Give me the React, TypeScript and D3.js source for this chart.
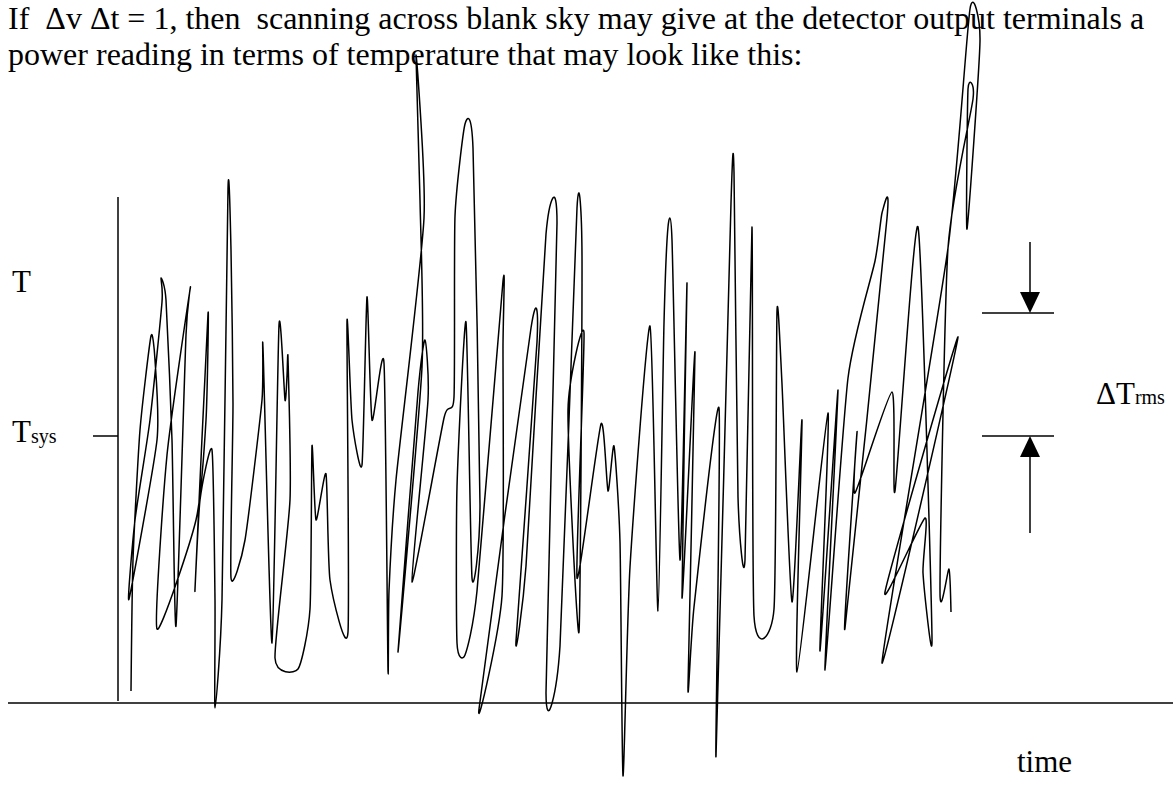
import React from 'react';
import * as d3 from 'd3';

// hand traced noise trace: time index and temperature (Tsys = 267 units)
const traceTime = [13, 15, 22, 33, 37, 39, 11, 17, 32, 44, 43, 48, 54, 58, 68, 72, 49, 39, 78, 88, 90, 77, 82, 94, 97, 97, 104, 110, 113, 115, 113, 127, 144, 145, 154, 161, 167, 169, 170, 172, 157, 180, 192, 194, 198, 208, 212, 230, 229, 234, 244, 249, 254, 266, 270, 271, 278, 306, 298, 302, 304, 280, 300, 307, 310, 294, 326, 336, 337, 347, 355, 362, 354, 348, 339, 339, 347, 359, 385, 385, 384, 361, 413, 419, 398, 408, 428, 439, 428, 442, 459, 464, 461, 450, 466, 459, 483, 490, 496, 502, 505, 512, 532, 540, 546, 550, 554, 562, 569, 564, 577, 570, 576, 601, 598, 613, 616, 620, 627, 634, 636, 656, 659, 664, 674, 684, 679, 710, 702, 720, 707, 730, 757, 764, 769, 727, 739, 737, 774, 777, 800, 814, 805, 807, 767, 840, 764, 830, 852, 862, 849, 850, 855, 830, 822, 831, 833];
const traceTemp = [12, 143, 273, 367, 343, 263, 104, 183, 283, 401, 425, 403, 263, 77, 368, 413, 248, 74, 183, 283, 389, 114, 203, 253, 103, -5, 103, 514, 453, 299, 125, 163, 303, 355, 60, 378, 303, 327, 345, 203, 45, 34, 94, 257, 183, 229, 123, 71, 381, 283, 238, 406, 283, 340, 33, 112, 223, 485, 648, 503, 336, 51, 311, 363, 303, 121, 285, 306, 487, 579, 555, 198, 125, 381, 216, 60, 48, 112, 422, 356, 107, -6, 375, 361, 62, 137, 469, 480, 10, 57, 495, 447, 71, 293, 370, 125, 279, 212, 257, 161, -73, 136, 377, 92, 380, 476, 463, 143, 420, 105, 351, 16, 96, 295, -53, 500, 531, 206, 143, 476, 87, 94, 392, 319, 101, 283, 31, 290, 52, 313, 33, 325, 442, 490, 485, 75, 270, 210, 311, 212, 476, 65, 130, 185, 111, 366, 40, 455, 694, 662, 474, 614, 604, 455, 111, 134, 91];

const tSys = 267;
const dTrms = 123;
const axisTop = 506;

const headLines = [
  'If  \u0394v \u0394t = 1, then  scanning across blank sky may give at the detector output terminals a',
  'power reading in terms of temperature that may look like this:',
];

const W = 1173, H = 785;
const serif = '"Liberation Serif", "Times New Roman", serif';

export default function App() {
  const x = d3.scaleLinear().domain([0, 1055]).range([118, 1173]);
  const y = d3.scaleLinear().domain([0, tSys]).range([703, 436]);

  const pts: [number, number][] = traceTime.map((t, i) => [t, traceTemp[i]]);
  const line = d3.line<[number, number]>()
    .x(d => x(d[0]))
    .y(d => y(d[1]))
    .curve(d3.curveCardinal.tension(0.4));

  const ax = 1030;            // arrow column
  const yHi = y(tSys + dTrms);
  const yLo = y(tSys);

  return (
    <svg width={W} height={H} style={{position: 'absolute', left: 0, top: 0, display: 'block'}}
         fontFamily={serif}>
      <rect width={W} height={H} fill="#fff"/>

      {headLines.map((s, i) => (
        <text key={i} x={8} y={29 + i * 36} fontSize={32} style={{whiteSpace: 'pre'}}>{s}</text>
      ))}

      {/* axes */}
      <line x1={x(0)} x2={x(0)} y1={y(0) - 2} y2={y(axisTop)} stroke="#000" strokeWidth={1.5}/>
      <line x1={8} x2={W} y1={y(0)} y2={y(0)} stroke="#000" strokeWidth={1.5}/>
      <line x1={93} x2={x(0)} y1={y(tSys)} y2={y(tSys)} stroke="#000" strokeWidth={1.5}/>

      <text x={12} y={292} fontSize={31}>T</text>
      <text x={12} y={442} fontSize={31}>T<tspan fontSize={20} dy={1}>sys</tspan></text>
      <text x={1017} y={772} fontSize={31}>time</text>

      <path d={line(pts) || ''} fill="none" stroke="#000" strokeWidth={1.5}/>

      {/* delta T rms marker */}
      <line x1={982} x2={1054} y1={yHi} y2={yHi} stroke="#000" strokeWidth={1.5}/>
      <line x1={982} x2={1054} y1={yLo} y2={yLo} stroke="#000" strokeWidth={1.5}/>
      <line x1={ax} x2={ax} y1={yHi - 71} y2={yHi - 18} stroke="#000" strokeWidth={1.5}/>
      <polygon points={`${ax - 10},${yHi - 21} ${ax + 10},${yHi - 21} ${ax},${yHi}`} fill="#000"/>
      <line x1={ax} x2={ax} y1={yLo + 18} y2={yLo + 97} stroke="#000" strokeWidth={1.5}/>
      <polygon points={`${ax - 10},${yLo + 21} ${ax + 10},${yLo + 21} ${ax},${yLo}`} fill="#000"/>
      <text x={1096} y={404} fontSize={31}>{'\u0394T'}<tspan fontSize={20}>rms</tspan></text>
    </svg>
  );
}
